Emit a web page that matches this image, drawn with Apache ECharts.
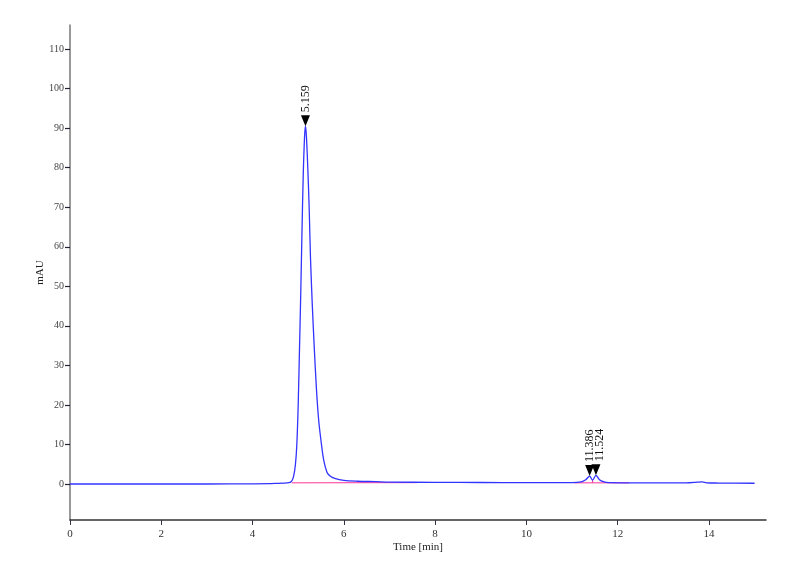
<!DOCTYPE html>
<html>
<head>
<meta charset="utf-8">
<script src="https://cdn.jsdelivr.net/npm/echarts@6/dist/echarts.min.js"></script>
<style>html,body{margin:0;padding:0;background:#fff}#c{width:800px;height:587px}</style>
</head>
<body>
<div id="c"></div>
<script>
// Chromatogram signal (time in min, absorbance in mAU)
var timeMin = [0, 1, 2, 3, 4.0, 4.5, 4.8, 4.86, 4.9, 4.94, 4.97, 5.0, 5.03, 5.05, 5.08, 5.11, 5.14, 5.159, 5.18, 5.21, 5.24, 5.27, 5.31, 5.35, 5.4, 5.45, 5.51, 5.56, 5.63, 5.7, 5.8, 6.0, 6.3, 6.7, 7.0, 8.0, 9.0, 10.0, 11.0, 11.2, 11.3, 11.386, 11.45, 11.524, 11.6, 11.7, 11.8, 12.5, 13.5, 13.85, 13.95, 14.2, 15.0];
var signal  = [0, 0, 0, 0, 0.05, 0.15, 0.35, 0.8, 2, 5, 10, 20, 35, 45, 62, 78, 88, 90.5, 88, 80, 70, 57, 45, 35, 24, 16, 10, 6, 3.0, 2.0, 1.4, 0.9, 0.7, 0.6, 0.5, 0.42, 0.38, 0.35, 0.35, 0.55, 1.1, 2.0, 1.0, 2.2, 1.1, 0.55, 0.35, 0.3, 0.3, 0.55, 0.3, 0.25, 0.2];

// Integration baselines (pink)
var base1Time = [4.86, 7.6];
var base1Val  = [0.3, 0.35];
var base2Time = [11.05, 12.25];
var base2Val  = [0.3, 0.3];
var dropTime  = [11.45, 11.45];
var dropVal   = [0.3, 1.0];

// Peak annotations
var peakTimes  = [5.159, 11.386, 11.524];
var peakHeight = [90.5, 2.0, 2.2];
var peakLabels = ['5.159', '11.386', '11.524'];

var xTicks = [0, 2, 4, 6, 8, 10, 12, 14];
var yTicks = [0, 10, 20, 30, 40, 50, 60, 70, 80, 90, 100, 110];

function pairs(a, b) { return a.map(function (v, i) { return [v, b[i]]; }); }

var font = 'Liberation Serif';
var chart = echarts.init(document.getElementById('c'), null, {renderer: 'canvas'});
chart.setOption({
  animation: false,
  backgroundColor: '#ffffff',
  grid: {left: 70, right: 34, top: 25, bottom: 67},
  xAxis: {
    type: 'value', min: 0, max: 15.25,
    name: 'Time [min]', nameLocation: 'middle', nameGap: 22, nameMoveOverlap: false,
    nameTextStyle: {fontFamily: font, fontSize: 11, color: '#222'},
    axisLine: {onZero: false, lineStyle: {color: '#333', width: 1.5}},
    axisTick: {show: true, length: 5, customValues: xTicks, lineStyle: {color: '#334'}},
    axisLabel: {fontFamily: font, fontSize: 11, color: '#333', margin: 9, customValues: xTicks},
    splitLine: {show: false}
  },
  yAxis: {
    type: 'value', min: -9.1, max: 116.1,
    name: 'mAU', nameLocation: 'middle', nameGap: 24, nameRotate: 90, nameMoveOverlap: false,
    nameTextStyle: {fontFamily: font, fontSize: 11, color: '#222'},
    axisLine: {show: true, onZero: false, lineStyle: {color: '#777', width: 1.5}},
    axisTick: {show: true, length: 5, customValues: yTicks, lineStyle: {color: '#223', width: 1.2}},
    axisLabel: {fontFamily: font, fontSize: 10, color: '#444', margin: 6, customValues: yTicks},
    splitLine: {show: false}
  },
  series: [
    {type: 'line', data: pairs(base1Time, base1Val), symbol: 'none', lineStyle: {color: '#ff3399', width: 1}, z: 1, silent: true},
    {type: 'line', data: pairs(base2Time, base2Val), symbol: 'none', lineStyle: {color: '#ff3399', width: 1}, z: 1, silent: true},
    {type: 'line', data: pairs(dropTime, dropVal), symbol: 'none', lineStyle: {color: '#ff3399', width: 1}, z: 1, silent: true},
    {
      type: 'line', data: pairs(timeMin, signal), symbol: 'none', smooth: 0.3,
      lineStyle: {color: '#3333ff', width: 1.3}, z: 3,
      markPoint: {
        symbol: 'triangle', symbolRotate: 180, symbolSize: [9, 11], symbolOffset: [0, -5.5],
        itemStyle: {color: '#000'},
        label: {
          show: true, rotate: 90, position: 'top', distance: 3,
          align: 'left', verticalAlign: 'middle',
          fontFamily: font, fontSize: 12, color: '#111',
          formatter: function (p) { return p.name; }
        },
        data: peakTimes.map(function (t, i) {
          var d = {name: peakLabels[i], coord: [t, peakHeight[i]]};
          if (i === 2) { d.label = {offset: [0, 4]}; }
          return d;
        })
      }
    }
  ]
});
</script>
</body>
</html>
